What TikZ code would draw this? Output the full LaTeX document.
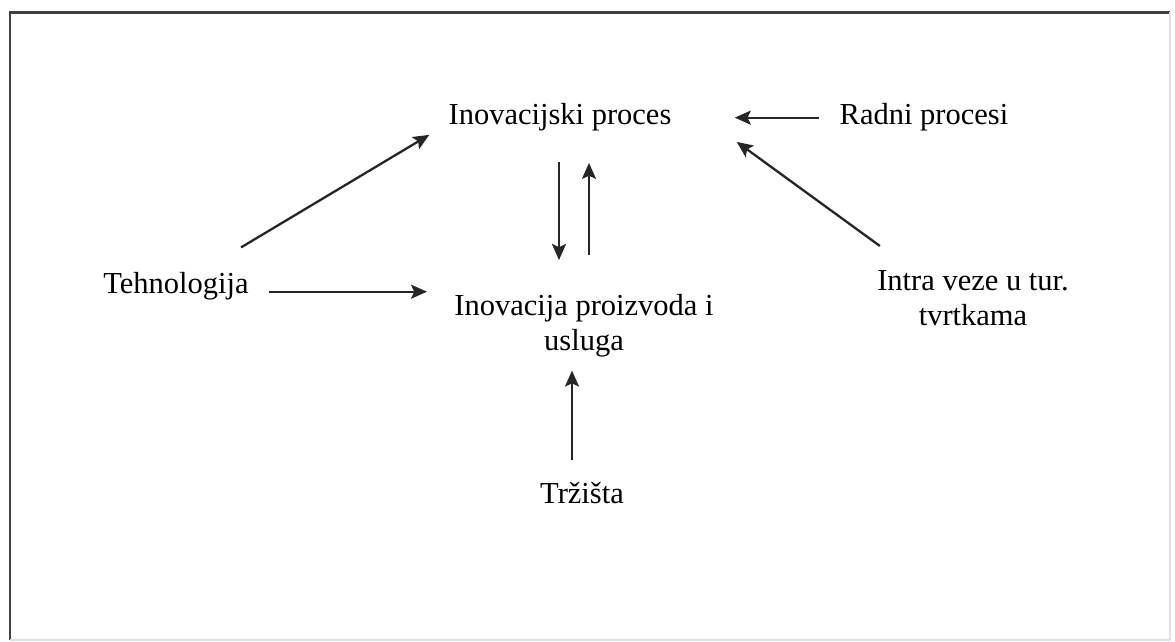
\documentclass[tikz,border=0pt]{standalone}
\usepackage{fontspec}
\setmainfont{Liberation Serif}
\usetikzlibrary{arrows.meta}

\begin{document}
\begin{tikzpicture}[
  x=0.5pt,y=-0.5pt,
  >={Stealth[length=8pt,width=7pt,inset=1.6pt]},
  lbl/.style={inner sep=0pt,align=center,font=\fontsize{15.25}{17.5}\selectfont},
  arr/.style={->,line width=1.15pt,black!85}
]
\useasboundingbox (0,0) rectangle (1175,642);
\draw[line width=1.2pt,black!75] (1170,12.5) -- (10,12.5) -- (10,640);
\draw[line width=0.8pt,black!12] (1170,12.5) -- (1170,640) -- (10,640);
\node[lbl,anchor=base] (proces) at (560,125) {Inovacijski proces};
\node[lbl,anchor=base] (radni) at (924,125) {Radni procesi};
\node[lbl,anchor=base] (tech) at (176,293) {Tehnologija};
\node[lbl,anchor=north] (proizvod) at (584,294) {Inovacija proizvoda i\\usluga};
\node[lbl,anchor=north] (intra) at (973,270) {Intra veze u tur.\\tvrtkama};
\node[lbl,anchor=base] (trziste) at (582,503) {Tržišta};
\draw[arr,shorten <=10pt,shorten >=31.5pt] (radni.west) -- (proces.east);
\draw[arr] ([shift={(-8,-24)}]tech.north east) -- ([shift={(-19,3)}]proces.south west);
\draw[arr] ([shift={(3,-24)}]intra.north west) -- ([shift={(65,10)}]proces.south east);
\draw[arr,shorten >=13.5pt] ([shift={(20,6)}]tech.east) -- ([yshift=-3pt]tech.east -| proizvod.west);
\draw[arr,shorten <=15pt,shorten >=17pt] ([xshift=-0.5pt]proces.south) -- ([xshift=-0.5pt]proces.south |- proizvod.north);
\draw[arr,shorten <=19.5pt,shorten >=15.5pt] ([xshift=14.5pt]proces.south |- proizvod.north) -- ([xshift=14.5pt]proces.south);
\draw[arr,shorten <=10.5pt,shorten >=6.5pt] ([xshift=-5pt]trziste.north) -- ([xshift=-5pt]trziste.north |- proizvod.south);
\end{tikzpicture}
\end{document}
